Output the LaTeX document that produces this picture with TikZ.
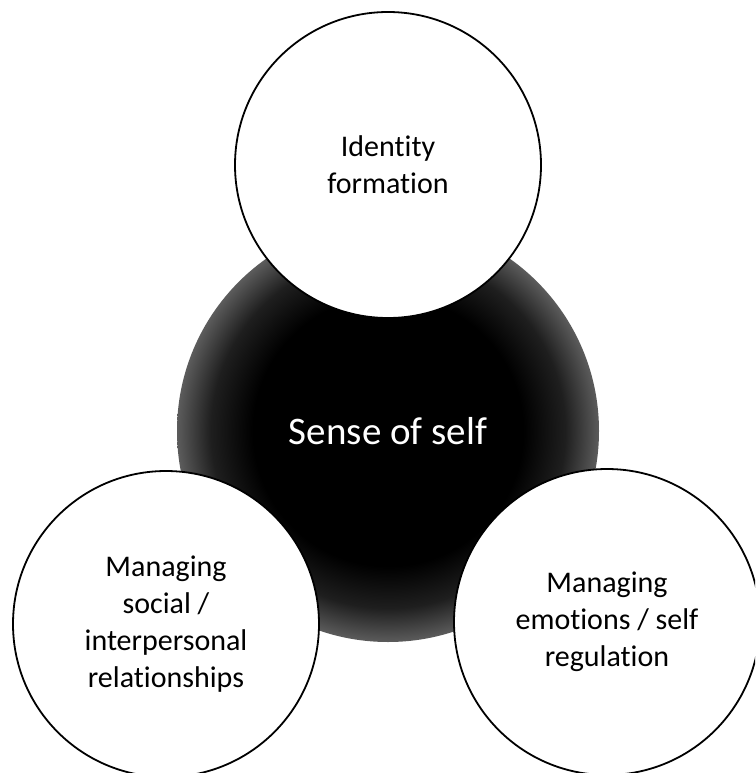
\documentclass[tikz,border=0pt]{standalone}
\usepackage{fontspec}
\setmainfont{Carlito}[RawFeature={-liga;-clig;-dlig}]
\pgfdeclareradialshading{selfshade}{\pgfpoint{0bp}{0bp}}{color(0bp)=(black); color(16bp)=(black); color(21bp)=(black!88); color(25bp)=(black!64); color(50bp)=(black!64)}
\tikzset{
  topic/.style={circle, draw=black, line width=1.8pt, fill=white, minimum size=306pt, inner sep=0pt, align=center, font=\fontsize{30}{36.8}\selectfont},
  core/.style={circle, shading=selfshade, minimum size=422pt, inner sep=0pt, align=center, text=white, font=\fontsize{39}{46}\selectfont}
}
\begin{document}
\begin{tikzpicture}[x=1pt, y=-1pt]
\useasboundingbox (0,0) rectangle (755,773);
\clip (0,0) rectangle (755,773);
\fill[white] (0,0) rectangle (755,773);
\node[core] (self) at (388,431) {Sense of self};
\node[topic] (identity) at (388,165) {Identity\\formation};
\node[topic] (social) at (166,624) {Managing\\social /\\interpersonal\\relationships};
\node[topic] (emotions) at (607,622) {Managing\\emotions / self\\regulation};
\end{tikzpicture}
\end{document}
